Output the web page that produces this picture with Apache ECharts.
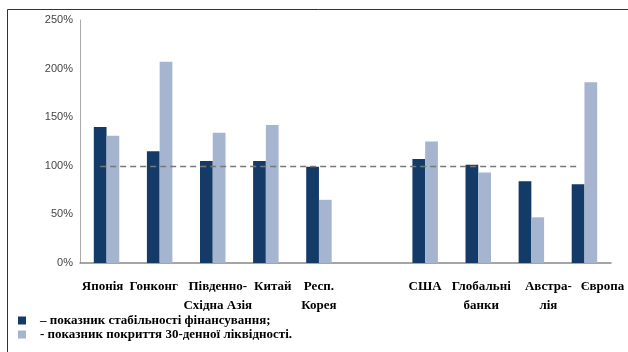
<!DOCTYPE html>
<html>
<head>
<meta charset="utf-8">
<script src="https://cdn.jsdelivr.net/npm/echarts@6/dist/echarts.min.js"></script>
<style>
  html, body { margin: 0; padding: 0; background: #fff; }
  #main { width: 628px; height: 352px; }
</style>
</head>
<body>
<div id="main"></div>
<script>
// categories (empty slot between Korea and USA, as in the source)
const regions = ["Японія", "Гонконг", "Південно-\nСхідна Азія", "Китай", "Респ.\nКорея", "", "США", "Глобальні\nбанки", "Австра-\nлія", "Європа"];
// stable funding ratio, %
const nsfr = [140, 115, 105, 105, 99, null, 107, 101, 84, 81];
// 30-day liquidity coverage ratio, %
const lcr = [131, 207, 134, 142, 65, null, 125, 93, 47, 186];
const yTicks = [0, 50, 100, 150, 200, 250];
const benchmark = 100;

const seriesNames = ["показник стабільності фінансування;", "показник покриття 30-денної ліквідності."];

// the source's labels sit a little off the bar centres; nudge a few of them
const labelNudge = {
  "Японія": [0, 8, 0, 0],
  "Гонконг": [0, 12, 0, 0],
  "Південно-\nСхідна Азія": [0, 0, 0, 10],
  "Китай": [0, 0, 0, 14],
  "Глобальні\nбанки": [0, 0, 0, 6],
  "Австра-\nлія": [0, 0, 0, 34],
  "Європа": [0, 0, 0, 36]
};

var chart = echarts.init(document.getElementById("main"));

var option = {
  animation: false,
  graphic: [
    {
      // frame (left and top edges)
      type: "rect",
      shape: { x: 7.5, y: 9.5, width: 700, height: 400 },
      style: { fill: "none", stroke: "#333", lineWidth: 1 },
      silent: true
    }
  ],
  grid: { left: 80, right: 17, top: 20, bottom: 89 },
  legend: {
    orient: "vertical",
    left: 13,
    top: 309,
    itemWidth: 8,
    itemHeight: 8,
    itemGap: 1,
    icon: "rect",
    formatter: function (name) {
      return (name === seriesNames[0] ? "– " : "- ") + name;
    },
    textStyle: {
      fontFamily: "Liberation Serif",
      fontWeight: "bold",
      fontSize: 13,
      color: "#000",
      padding: [0, 0, 0, 9]
    },
    data: seriesNames
  },
  xAxis: {
    type: "category",
    data: regions.map(function (r) {
      return labelNudge[r] ? { value: r, textStyle: { padding: labelNudge[r] } } : r;
    }),
    axisLine: { lineStyle: { color: "#888", width: 1.5 } },
    axisTick: { show: false },
    axisLabel: {
      interval: 0,
      margin: 14,
      fontFamily: "Liberation Serif",
      fontWeight: "bold",
      fontSize: 13,
      lineHeight: 19,
      color: "#000"
    }
  },
  yAxis: {
    type: "value",
    min: yTicks[0],
    max: yTicks[yTicks.length - 1],
    interval: 50,
    axisLine: { show: true, lineStyle: { color: "#aaa", width: 1 } },
    axisTick: { show: false },
    splitLine: { show: false },
    axisLabel: {
      margin: 7,
      fontFamily: "Liberation Sans",
      fontSize: 11,
      color: "#444",
      formatter: "{value}%"
    }
  },
  series: [
    {
      name: seriesNames[0],
      type: "bar",
      data: nsfr,
      barGap: "0%",
      barCategoryGap: "52%",
      itemStyle: { color: "#143b68" },
      markLine: {
        silent: true,
        symbol: "none",
        label: { show: false },
        lineStyle: { color: "#777", type: [6, 4], width: 1.4 },
        data: [[{ coord: [regions[0], benchmark] }, { coord: [regions[regions.length - 1], benchmark] }]]
      }
    },
    {
      name: seriesNames[1],
      type: "bar",
      data: lcr,
      itemStyle: { color: "#a6b5cf" }
    }
  ]
};

chart.setOption(option);
</script>
</body>
</html>
